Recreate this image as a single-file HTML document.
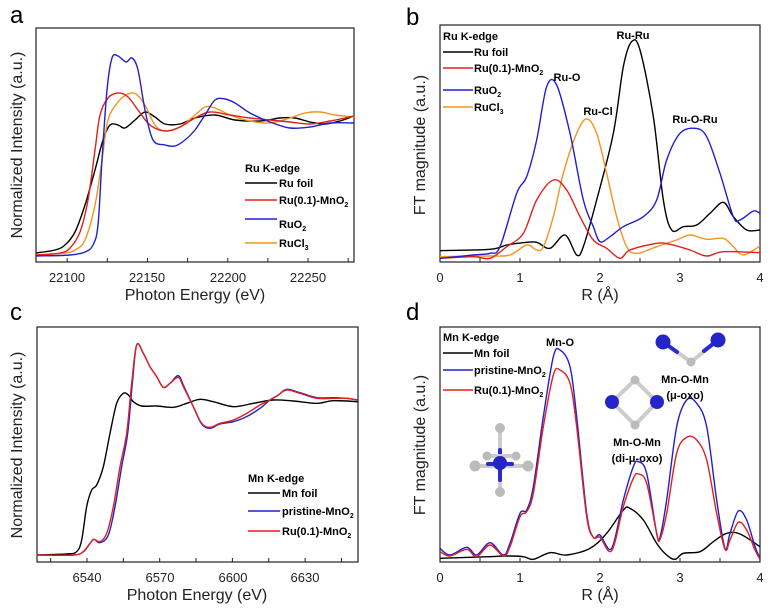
<!DOCTYPE html>
<html><head><meta charset="utf-8"><style>
body{margin:0;background:#fff}
svg{display:block;font-family:"Liberation Sans",sans-serif}
.lg{font-size:11px;font-weight:bold}
.tk{font-size:13px;fill:#222}
.al{font-size:16px;fill:#222}
.pl{font-size:24px}
</style></head><body>
<svg id="s" width="773" height="613" viewBox="0 0 773 613" xmlns="http://www.w3.org/2000/svg">
<rect width="773" height="613" fill="#fff"/>
<!-- frames -->
<rect x="36" y="28" width="318" height="234" fill="none" stroke="#222" stroke-width="1.2"/>
<rect x="440" y="25" width="320" height="237" fill="none" stroke="#222" stroke-width="1.2"/>
<rect x="37" y="327" width="321" height="235" fill="none" stroke="#222" stroke-width="1.2"/>
<rect x="440" y="327" width="320" height="235" fill="none" stroke="#222" stroke-width="1.2"/>
<g id="curves" fill="none" stroke-width="1.4" stroke-linejoin="round"></g>
<g stroke="#222" stroke-width="1" id="ticks"></g>
<!-- panel letters -->
<text class="pl" x="10" y="23">a</text>
<text class="pl" x="406" y="25">b</text>
<text class="pl" x="10" y="320">c</text>
<text class="pl" x="406" y="320">d</text>
<!-- a -->
<text class="tk" text-anchor="middle" x="67" y="282">22100</text>
<text class="tk" text-anchor="middle" x="147" y="282">22150</text>
<text class="tk" text-anchor="middle" x="228" y="282">22200</text>
<text class="tk" text-anchor="middle" x="308" y="282">22250</text>
<text class="al" text-anchor="middle" x="195" y="300">Photon Energy (eV)</text>
<text class="al" text-anchor="middle" transform="translate(22,145) rotate(-90)">Normalized Intensity (a.u.)</text>
<text class="lg" x="245" y="172">Ru K-edge</text>
<line x1="245" y1="183" x2="277" y2="183" stroke="#000" stroke-width="1.4"/><text class="lg" x="279" y="187">Ru foil</text>
<line x1="245" y1="200" x2="277" y2="200" stroke="#e0201c" stroke-width="1.4"/><text class="lg" x="279" y="204">Ru(0.1)-MnO<tspan font-size="7" dy="3">2</tspan></text>
<line x1="245" y1="219" x2="277" y2="219" stroke="#2020d0" stroke-width="1.4"/><text class="lg" x="279" y="228">RuO<tspan font-size="7" dy="3">2</tspan></text>
<line x1="245" y1="243" x2="277" y2="243" stroke="#f29420" stroke-width="1.4"/><text class="lg" x="279" y="247">RuCl<tspan font-size="7" dy="3">3</tspan></text>
<!-- b -->
<text class="tk" text-anchor="middle" x="440" y="282">0</text>
<text class="tk" text-anchor="middle" x="520" y="282">1</text>
<text class="tk" text-anchor="middle" x="600" y="282">2</text>
<text class="tk" text-anchor="middle" x="680" y="282">3</text>
<text class="tk" text-anchor="middle" x="760" y="282">4</text>
<text class="al" text-anchor="middle" x="600" y="300">R (Å)</text>
<text class="al" text-anchor="middle" transform="translate(425,145) rotate(-90)">FT magnitude (a.u.)</text>
<text class="lg" x="443" y="40">Ru K-edge</text>
<line x1="443" y1="52" x2="473" y2="52" stroke="#000" stroke-width="1.4"/><text class="lg" x="474" y="56">Ru foil</text>
<line x1="443" y1="68" x2="473" y2="68" stroke="#e0201c" stroke-width="1.4"/><text class="lg" x="474" y="72">Ru(0.1)-MnO<tspan font-size="7" dy="3">2</tspan></text>
<line x1="443" y1="90" x2="473" y2="90" stroke="#2020d0" stroke-width="1.4"/><text class="lg" x="474" y="94">RuO<tspan font-size="7" dy="3">2</tspan></text>
<line x1="443" y1="107" x2="473" y2="107" stroke="#f29420" stroke-width="1.4"/><text class="lg" x="474" y="111">RuCl<tspan font-size="7" dy="3">3</tspan></text>
<text class="lg" x="633" y="39" text-anchor="middle">Ru-Ru</text>
<text class="lg" x="567" y="81" text-anchor="middle">Ru-O</text>
<text class="lg" x="598" y="115" text-anchor="middle">Ru-Cl</text>
<text class="lg" x="695" y="123" text-anchor="middle">Ru-O-Ru</text>
<!-- c -->
<text class="tk" text-anchor="middle" x="87" y="582">6540</text>
<text class="tk" text-anchor="middle" x="160" y="582">6570</text>
<text class="tk" text-anchor="middle" x="233" y="582">6600</text>
<text class="tk" text-anchor="middle" x="305" y="582">6630</text>
<text class="al" text-anchor="middle" x="197" y="600">Photon Energy (eV)</text>
<text class="al" text-anchor="middle" transform="translate(22,445) rotate(-90)">Normalized Intensity (a.u.)</text>
<text class="lg" x="248" y="482">Mn K-edge</text>
<line x1="248" y1="493" x2="280" y2="493" stroke="#000" stroke-width="1.4"/><text class="lg" x="282" y="497">Mn foil</text>
<line x1="248" y1="511" x2="280" y2="511" stroke="#2020d0" stroke-width="1.4"/><text class="lg" x="282" y="515">pristine-MnO<tspan font-size="7" dy="3">2</tspan></text>
<line x1="248" y1="531" x2="280" y2="531" stroke="#e0201c" stroke-width="1.4"/><text class="lg" x="282" y="535">Ru(0.1)-MnO<tspan font-size="7" dy="3">2</tspan></text>
<!-- d -->
<text class="tk" text-anchor="middle" x="440" y="582">0</text>
<text class="tk" text-anchor="middle" x="520" y="582">1</text>
<text class="tk" text-anchor="middle" x="600" y="582">2</text>
<text class="tk" text-anchor="middle" x="680" y="582">3</text>
<text class="tk" text-anchor="middle" x="760" y="582">4</text>
<text class="al" text-anchor="middle" x="600" y="600">R (Å)</text>
<text class="al" text-anchor="middle" transform="translate(425,445) rotate(-90)">FT magnitude (a.u.)</text>
<text class="lg" x="443" y="341">Mn K-edge</text>
<line x1="443" y1="353" x2="473" y2="353" stroke="#000" stroke-width="1.4"/><text class="lg" x="474" y="357">Mn foil</text>
<line x1="443" y1="370" x2="473" y2="370" stroke="#2020d0" stroke-width="1.4"/><text class="lg" x="474" y="374">pristine-MnO<tspan font-size="7" dy="3">2</tspan></text>
<line x1="443" y1="390" x2="473" y2="390" stroke="#e0201c" stroke-width="1.4"/><text class="lg" x="474" y="394">Ru(0.1)-MnO<tspan font-size="7" dy="3">2</tspan></text>
<text class="lg" x="560" y="346" text-anchor="middle">Mn-O</text>
<text class="lg" x="685" y="383" text-anchor="middle">Mn-O-Mn</text>
<text class="lg" x="685" y="399" text-anchor="middle">(μ-oxo)</text>
<text class="lg" x="637" y="446" text-anchor="middle">Mn-O-Mn</text>
<text class="lg" x="637" y="462" text-anchor="middle">(di-μ-oxo)</text>
<!-- molecules -->
<g stroke-width="4" stroke-linecap="round">
<line x1="500" y1="428" x2="500" y2="492" stroke="#ccc"/><line x1="500" y1="450" x2="500" y2="480" stroke="#2a2ad0"/>
<line x1="475" y1="466" x2="528" y2="466" stroke="#ccc"/><line x1="487" y1="456" x2="516" y2="456" stroke="#ccc"/>
<line x1="488" y1="464" x2="512" y2="464" stroke="#2a2ad0"/>
<line x1="635" y1="380" x2="612" y2="402" stroke="#ccc"/><line x1="635" y1="380" x2="657" y2="402" stroke="#ccc"/>
<line x1="635" y1="425" x2="612" y2="402" stroke="#ccc"/><line x1="635" y1="425" x2="657" y2="402" stroke="#ccc"/>
<line x1="663" y1="342" x2="691" y2="362" stroke="#ccc"/><line x1="718" y1="340" x2="691" y2="362" stroke="#ccc"/>
<line x1="663" y1="342" x2="677" y2="352" stroke="#2a2ad0"/><line x1="718" y1="340" x2="704" y2="351" stroke="#2a2ad0"/>
</g>
<g fill="#bbb"><circle cx="500" cy="428" r="5"/><circle cx="500" cy="492" r="5"/><circle cx="475" cy="466" r="5.5"/><circle cx="528" cy="466" r="5.5"/><circle cx="487" cy="456" r="4.5"/><circle cx="516" cy="456" r="4.5"/>
<circle cx="635" cy="380" r="4.5"/><circle cx="635" cy="425" r="4.5"/><circle cx="691" cy="362" r="4.5"/></g>
<g fill="#2424c8"><circle cx="500" cy="463" r="7"/><circle cx="612" cy="402" r="7"/><circle cx="657" cy="402" r="7"/><circle cx="663" cy="342" r="7.5"/><circle cx="718" cy="340" r="7.5"/></g>
</svg>
<script>
var NS="http://www.w3.org/2000/svg",G=document.getElementById("curves");
function path(pts,col,ox,oy){ // zoom coords /3 + offset
  var p=pts.map(function(a){return[a[0]/3+ox,a[1]/3+oy]});
  var d="M"+p[0][0]+","+p[0][1];
  for(var i=0;i<p.length-1;i++){var p0=p[Math.max(0,i-1)],p1=p[i],p2=p[i+1],p3=p[Math.min(p.length-1,i+2)];
   d+="C"+(p1[0]+(p2[0]-p0[0])/6)+","+(p1[1]+(p2[1]-p0[1])/6)+" "+(p2[0]-(p3[0]-p1[0])/6)+","+(p2[1]-(p3[1]-p1[1])/6)+" "+p2[0]+","+p2[1];}
  var e=document.createElementNS(NS,"path");e.setAttribute("d",d);e.setAttribute("stroke",col);G.appendChild(e);}
function full(pts){return pts.map(function(a){return[a[0]*3,a[1]*3]})}
var K="#000",R="#e0201c",B="#2020d0",O="#f29420";
// panel a (full coords)
path(full([[36,253],[55,250],[65,245],[75,232],[85,205],[95,170],[103,140],[110,125],[118,125],[125,128],[135,120],[145,112],[155,117],[165,124],[180,124],[195,118],[215,115],[235,120],[260,121],[280,118],[295,118],[310,122],[325,124],[340,121],[354,116]]),K,0,0);
path(full([[36,255],[65,253],[75,250],[85,240],[95,205],[102,160],[108,120],[118,102],[128,94],[136,94],[145,105],[155,125],[165,131],[180,127],[195,115],[205,107],[215,108],[230,115],[250,121],[270,123],[290,118],[305,113],[320,112],[335,115],[354,117]]),O,0,0);
path(full([[36,255],[60,253],[70,248],[80,232],[88,200],[95,150],[100,115],[108,98],[118,93],[128,97],[138,110],[150,125],[165,131],[180,127],[195,118],[210,112],[230,115],[250,118],[270,120],[290,122],[310,124],[330,121],[354,116]]),R,0,0);
path(full([[36,256],[70,255],[85,252],[93,245],[98,225],[102,160],[107,90],[112,58],[118,56],[126,62],[132,58],[138,70],[145,110],[153,140],[165,145],[175,146],[185,140],[195,130],[205,115],[215,100],[225,99],[235,103],[250,113],[270,122],[290,128],[310,127],[330,123],[354,123]]),B,0,0);
// panel b
path([[150,752],[300,748],[350,735],[400,728],[440,727],[480,745],[525,705],[560,765],[580,740],[620,600],[670,400],[700,200],[725,125],[750,150],[790,350],[820,600],[845,690],[880,680],[920,675],[960,640],[1000,607],[1030,650],[1070,690],[1110,690]],K,390,0);
path([[150,770],[250,768],[300,768],[360,765],[410,735],[440,750],[460,740],[490,650],[520,520],[560,400],[590,357],[620,400],[650,520],[680,650],[710,740],[740,760],[800,740],[860,720],[900,705],[950,718],[1000,715],[1030,740],[1060,765],[1110,738]],O,390,0);
path([[150,775],[250,770],[300,775],[350,740],[400,700],[440,600],[490,540],[530,570],[570,650],[610,720],[650,745],[690,775],[720,750],[800,730],[840,733],[900,750],[950,768],[1000,755],[1110,758]],R,390,0);
path([[150,775],[250,765],[300,760],[330,740],[380,580],[410,530],[440,420],[470,260],[500,255],[540,400],[580,600],[610,680],[630,725],[660,710],[700,680],[760,650],[800,600],[830,480],[870,400],[915,385],[950,410],[990,520],[1030,650],[1050,660],[1090,633],[1110,640]],B,390,0);
// panel c
path([[110,765],[200,762],[230,755],[245,720],[260,620],[275,570],[290,555],[310,500],[330,400],[350,310],[370,280],[385,285],[400,305],[425,318],[470,318],[520,322],[560,310],[600,298],[640,305],[700,320],[760,310],[820,300],[880,303],[950,310],[1000,302],[1073,305]],K,0,300);
var cb=[[110,765],[220,765],[250,755],[270,730],[282,718],[300,728],[325,705],[345,620],[365,500],[383,400],[397,250],[410,135],[430,160],[450,200],[470,230],[490,262],[510,250],[535,227],[552,260],[580,320],[605,372],[630,385],[660,372],[700,365],[740,350],[780,325],[810,300],[835,285],[860,268],[900,278],[950,293],[1000,293],[1040,295],[1073,300]];
path(cb,B,0,300);
path([[110,765],[220,765],[250,755],[270,730],[282,718],[300,725],[320,700],[340,620],[360,500],[380,400],[395,250],[410,135],[430,160],[450,200],[470,230],[490,262],[510,250],[535,232],[550,260],[580,320],[605,370],[630,382],[660,370],[700,360],[740,340],[780,315],[810,300],[835,285],[860,270],[900,280],[950,295],[1000,295],[1040,295],[1073,300]],R,0,300);
// panel d
path([[150,775],[300,770],[350,768],[400,770],[430,778],[480,758],[530,765],[600,745],[650,700],[700,630],[720,625],[760,660],[800,730],[830,765],[855,778],[880,760],[930,755],[970,725],[1010,700],[1050,702],[1110,740]],K,390,300);
path([[150,745],[180,765],[230,742],[260,765],[300,728],[340,765],[360,730],[390,640],[410,630],[430,560],[460,350],[490,170],[510,150],[540,200],[560,350],[590,640],[610,712],[630,705],[665,745],[700,600],[730,500],[745,485],[770,520],[800,700],[810,712],[830,600],[860,380],[890,300],[920,310],[950,380],[980,600],[1005,745],[1020,700],[1045,633],[1070,660],[1095,740],[1110,775]],B,390,300);
path([[150,755],[180,768],[230,748],[260,770],[300,735],[340,768],[360,740],[390,650],[410,635],[430,580],[460,380],[490,225],[510,210],[540,250],[560,380],[590,650],[610,712],[630,712],[665,752],[700,620],[730,535],[745,522],[770,550],[800,700],[810,718],[830,640],[860,460],[890,412],[920,420],[950,480],[980,640],[1005,748],[1020,720],[1045,667],[1070,690],[1095,750],[1110,778]],R,390,300);
// ticks
var T=document.getElementById("ticks");
function tk(x,y){var l=document.createElementNS(NS,"line");l.setAttribute("x1",x);l.setAttribute("x2",x);l.setAttribute("y1",y);l.setAttribute("y2",y-4);T.appendChild(l);}
for(var i=0;i<9;i++){var x=27+i*40.15;if(x>36&&x<354)tk(x,262);}
for(var i=0;i<9;i++){tk(440+i*40,262);tk(440+i*40,562);}
for(var i=-2;i<10;i++){var x=87+i*36.35;if(x>37&&x<358)tk(x,562);}
</script>
</body></html>
